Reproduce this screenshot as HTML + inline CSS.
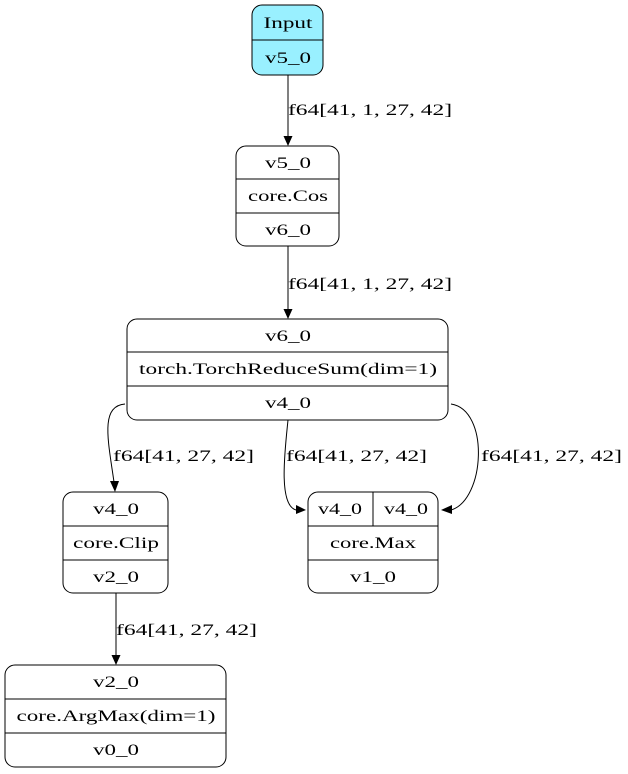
<!DOCTYPE html>
<html><head><style>html,body{margin:0;padding:0;background:#fff}svg{display:block}text{font-family:"Liberation Serif",serif;font-size:16px;fill:#000}</style></head>
<body>
<svg width="628" height="774" viewBox="0 0 628 774" xmlns="http://www.w3.org/2000/svg">
<g fill="none" stroke="#000" stroke-width="1">
<rect x="252" y="5" width="71" height="70" rx="10" fill="#99f0ff"/>
<line x1="252" y1="40" x2="323" y2="40"/>
<rect x="236" y="146" width="103" height="100" rx="10" fill="#fff"/>
<line x1="236" y1="179" x2="339" y2="179"/><line x1="236" y1="213" x2="339" y2="213"/>
<rect x="127" y="319" width="321" height="101" rx="10" fill="#fff"/>
<line x1="127" y1="352" x2="448" y2="352"/><line x1="127" y1="386" x2="448" y2="386"/>
<rect x="63" y="492" width="105" height="101" rx="10" fill="#fff"/>
<line x1="63" y1="526" x2="168" y2="526"/><line x1="63" y1="560" x2="168" y2="560"/>
<rect x="308" y="492" width="130" height="101" rx="10" fill="#fff"/>
<line x1="308" y1="526" x2="438" y2="526"/><line x1="308" y1="560" x2="438" y2="560"/><line x1="373" y1="492" x2="373" y2="526"/>
<rect x="5" y="665" width="221" height="102" rx="10" fill="#fff"/>
<line x1="5" y1="699" x2="226" y2="699"/><line x1="5" y1="733" x2="226" y2="733"/>
<line x1="288" y1="75" x2="288" y2="136"/>
<line x1="288" y1="246" x2="288" y2="309"/>
<path d="M125,404 C100,406 108,440 114,482"/>
<path d="M288,420 C285,450 278,505 296,510"/>
<path d="M451,404 C490,410 485,500 451,510"/>
<line x1="116" y1="593" x2="116" y2="655"/>
</g>
<g fill="#000">
<polygon points="283.5,136 292.5,136 288,146"/>
<polygon points="283.5,309 292.5,309 288,319"/>
<polygon points="110,481 119,481 115,492"/>
<polygon points="296,505 296,514 306,510"/>
<polygon points="452,505 452,514 441,510"/>
<polygon points="111.5,655 120.5,655 116,665"/>
</g>
<g text-anchor="middle" lengthAdjust="spacingAndGlyphs">
<text x="288" y="28" textLength="49" lengthAdjust="spacingAndGlyphs">Input</text><text x="288" y="63" textLength="46" lengthAdjust="spacingAndGlyphs">v5_0</text>
<text x="288" y="168" textLength="46" lengthAdjust="spacingAndGlyphs">v5_0</text><text x="288" y="201" textLength="80" lengthAdjust="spacingAndGlyphs">core.Cos</text><text x="288" y="235" textLength="46" lengthAdjust="spacingAndGlyphs">v6_0</text>
<text x="288" y="341" textLength="46" lengthAdjust="spacingAndGlyphs">v6_0</text><text x="288" y="374" textLength="298" lengthAdjust="spacingAndGlyphs">torch.TorchReduceSum(dim=1)</text><text x="288" y="408" textLength="46" lengthAdjust="spacingAndGlyphs">v4_0</text>
<text x="116" y="514" textLength="46" lengthAdjust="spacingAndGlyphs">v4_0</text><text x="116" y="548" textLength="86" lengthAdjust="spacingAndGlyphs">core.Clip</text><text x="116" y="582" textLength="46" lengthAdjust="spacingAndGlyphs">v2_0</text>
<text x="340" y="514" textLength="44" lengthAdjust="spacingAndGlyphs">v4_0</text><text x="406" y="514" textLength="44" lengthAdjust="spacingAndGlyphs">v4_0</text><text x="373" y="548" textLength="86" lengthAdjust="spacingAndGlyphs">core.Max</text><text x="373" y="582" textLength="46" lengthAdjust="spacingAndGlyphs">v1_0</text>
<text x="116" y="687" textLength="46" lengthAdjust="spacingAndGlyphs">v2_0</text><text x="116" y="721" textLength="199" lengthAdjust="spacingAndGlyphs">core.ArgMax(dim=1)</text><text x="116" y="755" textLength="46" lengthAdjust="spacingAndGlyphs">v0_0</text>
</g>
<text x="288" y="115" textLength="164" lengthAdjust="spacingAndGlyphs">f64[41, 1, 27, 42]</text>
<text x="288" y="289" textLength="164" lengthAdjust="spacingAndGlyphs">f64[41, 1, 27, 42]</text>
<text x="113" y="461" textLength="141" lengthAdjust="spacingAndGlyphs">f64[41, 27, 42]</text>
<text x="286" y="461" textLength="141" lengthAdjust="spacingAndGlyphs">f64[41, 27, 42]</text>
<text x="481" y="461" textLength="141" lengthAdjust="spacingAndGlyphs">f64[41, 27, 42]</text>
<text x="116" y="635" textLength="141" lengthAdjust="spacingAndGlyphs">f64[41, 27, 42]</text>
</svg>
</body></html>
